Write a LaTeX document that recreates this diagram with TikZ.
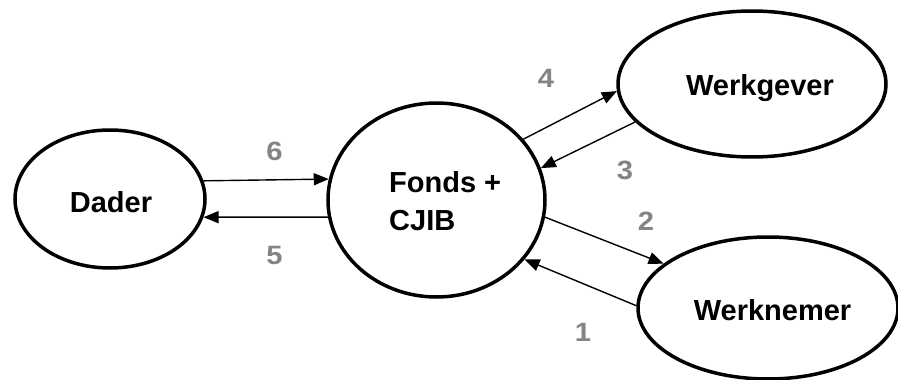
\documentclass[tikz,border=0pt]{standalone}
\usepackage{fontspec}
\setmainfont{Liberation Sans}
\usetikzlibrary{arrows.meta,shapes.geometric}
\definecolor{numgray}{RGB}{132,132,132}
\tikzset{
  ell/.style={draw=black, line width=3.5pt, ellipse, inner sep=0pt},
  bigtext/.style={font=\bfseries\fontsize{29}{38}\selectfont, inner sep=0pt},
  numtext/.style={font=\bfseries\fontsize{26.5}{30}\selectfont, text=numgray, inner sep=0pt, xscale=1.1},
  flow/.style={line width=1.4pt, -{Triangle[length=15pt,width=12pt]}}
}
\begin{document}
\begin{tikzpicture}[x=1pt,y=-1pt]
\useasboundingbox (0,0) rectangle (898,380);
% ellipses
\node[ell, minimum width=190pt, minimum height=138pt] (dader) at (110,199) {};
\node[ell, minimum width=217pt, minimum height=194pt] (fonds) at (436.5,200) {};
\node[ell, minimum width=268pt, minimum height=146pt] (wg) at (752,84) {};
\node[ell, minimum width=260pt, minimum height=142pt] (wn) at (768,308) {};
% texts
\node[bigtext, anchor=base] (tdader) at (111,212) {Dader};
\node[bigtext, anchor=west, align=left] (tfonds) at (389,201) {Fonds +\\CJIB};
\node[bigtext, anchor=base] (twg) at (760,95) {Werkgever};
\node[bigtext, anchor=base] (twn) at (772.5,320) {Werknemer};
% arrows
\draw[flow] (dader.11.52) -- (fonds.169.51);
\draw[flow] (fonds.189.43) -- (dader.-11.52);
\draw[flow] (fonds.35.6) -- (wg.183.8);
\draw[flow] (wg.198.1) -- (fonds.17.2);
\draw[flow] (fonds.-9.3) -- (wn.157.3);
\draw[flow] (wn.179.1) -- (fonds.-34.7);
% numbers
\node[numtext] (n6) at (274.5,151) {6};
\node[numtext] (n5) at (274.5,256) {5};
\node[numtext] (n4) at (546,78) {4};
\node[numtext] (n3) at (625,170) {3};
\node[numtext] (n2) at (646,221) {2};
\node[numtext] (n1) at (583,332) {1};
\end{tikzpicture}
\end{document}
